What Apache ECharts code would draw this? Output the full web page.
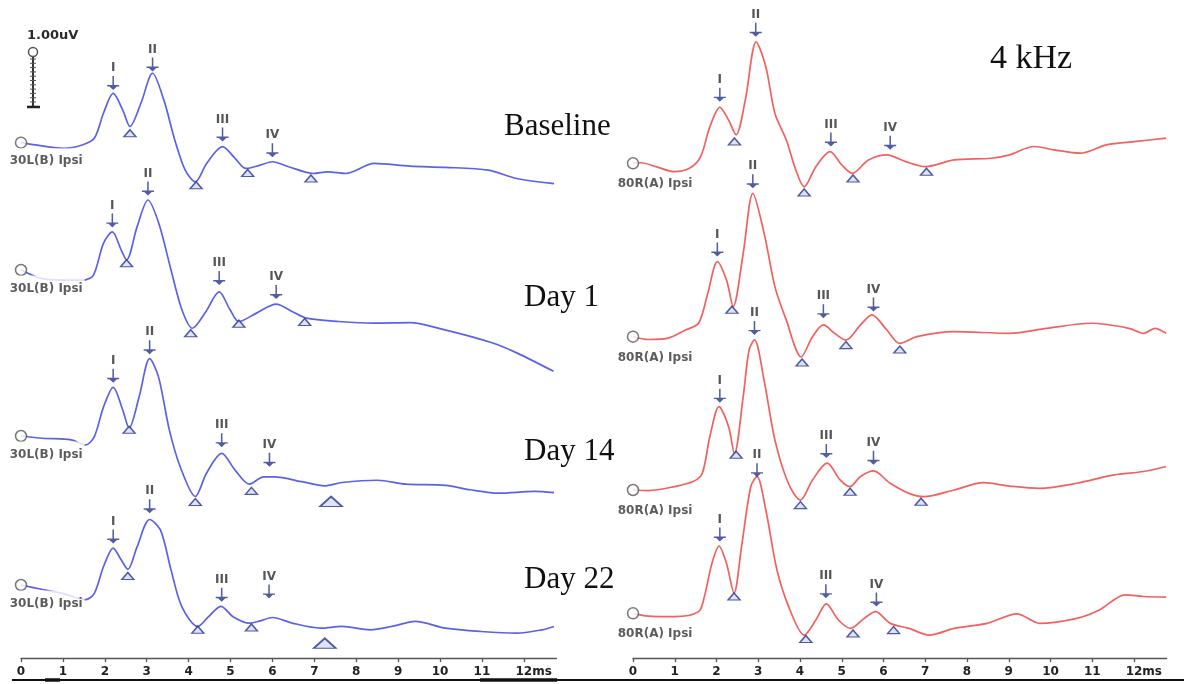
<!DOCTYPE html>
<html><head><meta charset="utf-8">
<script src="https://cdn.jsdelivr.net/npm/echarts/dist/echarts.min.js"></script>
<style>html,body{margin:0;padding:0;background:#fff}#c{width:1184px;height:684px}</style>
</head><body><div id="c"></div>
<script>
// ---------- DATA (latency ms, amplitude uV relative to each trace's start) ----------
const TICK_LABELS = ['0','1','2','3','4','5','6','7','8','9','10','11','12ms'];
const PEAK_NAMES = ['I','II','III','IV'];
const ROW_LABELS = ['Baseline','Day 1','Day 14','Day 22'];
const LEFT_CHANNEL = '30L(B) Ipsi';
const RIGHT_CHANNEL = '80R(A) Ipsi';
const FREQ_LABEL = '4 kHz';
const SCALE_LABEL = '1.00uV';

const L_base = [[0,0],[0.35,-0.04],[1.03,-0.10],[1.46,-0.04],[1.75,0.08],[1.97,0.53],[2.20,0.88],[2.43,0.58],[2.60,0.29],[2.86,0.70],[3.14,1.24],[3.41,0.76],[3.67,0.05],[3.92,-0.49],[4.16,-0.70],[4.43,-0.37],[4.81,-0.07],[5.11,-0.28],[5.37,-0.46],[5.71,-0.40],[6.00,-0.34],[6.39,-0.43],[6.98,-0.55],[7.32,-0.52],[7.75,-0.55],[8.43,-0.37],[9.28,-0.42],[10.13,-0.44],[11.15,-0.49],[11.83,-0.64],[12.72,-0.73]];
const L_d1 = [[0,0],[0.48,-0.15],[0.93,-0.18],[1.50,-0.18],[1.73,-0.09],[1.97,0.48],[2.18,0.68],[2.39,0.36],[2.52,0.18],[2.77,0.77],[3.03,1.25],[3.29,0.83],[3.58,0],[3.84,-0.71],[4.09,-1.04],[4.39,-0.77],[4.73,-0.39],[4.99,-0.71],[5.20,-0.92],[5.62,-0.77],[6.09,-0.61],[6.47,-0.74],[6.81,-0.86],[7.58,-0.92],[8.43,-0.95],[9.28,-0.94],[10.12,-1.07],[11.24,-1.30],[11.83,-1.48],[12.71,-1.81]];
const L_d14 = [[0,0],[0.52,-0.04],[1.20,-0.07],[1.54,-0.16],[1.75,-0.01],[1.97,0.52],[2.20,0.87],[2.43,0.46],[2.58,0.14],[2.82,0.70],[3.07,1.38],[3.28,1.06],[3.54,0.11],[3.80,-0.55],[4.16,-1.08],[4.43,-0.66],[4.79,-0.31],[5.11,-0.61],[5.45,-0.86],[5.79,-0.73],[6.05,-0.73],[6.73,-0.82],[7.24,-0.89],[7.66,-0.83],[8.51,-0.79],[9.19,-0.86],[10.13,-0.88],[10.72,-0.96],[11.40,-1.02],[12.25,-0.99],[12.72,-1.01]];
const L_d22 = [[0,0],[0.52,-0.08],[0.99,-0.15],[1.54,-0.26],[1.75,-0.15],[1.97,0.33],[2.20,0.66],[2.39,0.45],[2.55,0.28],[2.77,0.68],[3.07,1.17],[3.33,0.98],[3.58,0.27],[3.84,-0.39],[4.22,-0.74],[4.47,-0.57],[4.77,-0.38],[5.07,-0.57],[5.45,-0.68],[5.71,-0.64],[6.00,-0.58],[6.47,-0.68],[7.15,-0.77],[7.66,-0.74],[8.34,-0.80],[8.85,-0.74],[9.41,-0.65],[10.13,-0.77],[10.98,-0.83],[11.83,-0.86],[12.43,-0.80],[12.72,-0.74]];

const R_base = [[0,0],[0.19,0.01],[0.55,-0.06],[0.99,-0.15],[1.35,-0.09],[1.62,0.12],[1.84,0.65],[2.08,1.00],[2.29,0.77],[2.47,0.51],[2.69,1.13],[2.95,2.17],[3.18,1.73],[3.40,0.89],[3.67,0.42],[3.90,-0.12],[4.10,-0.42],[4.38,-0.06],[4.72,0.21],[5.00,-0.03],[5.25,-0.18],[5.64,0.06],[6.08,0.15],[6.53,0.03],[7.01,-0.06],[7.69,0.06],[8.58,0.09],[9.02,0.15],[9.60,0.30],[10.09,0.24],[10.71,0.18],[11.34,0.33],[12.06,0.39],[12.77,0.45]];
const R_d1 = [[0,0],[0.37,-0.05],[0.82,-0.03],[1.26,0.12],[1.57,0.24],[1.79,0.77],[2.02,1.34],[2.24,1.01],[2.40,0.54],[2.64,1.49],[2.87,2.56],[3.14,1.85],[3.40,0.89],[3.67,0.30],[4.03,-0.36],[4.30,0],[4.56,0.21],[4.83,0.06],[5.10,-0.06],[5.45,0.21],[5.72,0.39],[6.08,0.12],[6.39,-0.12],[6.80,0],[7.69,0.09],[9.02,0.06],[9.91,0.15],[10.98,0.24],[11.88,0.15],[12.23,0.06],[12.50,0.15],[12.77,0.06]];
const R_d14 = [[0,0],[0.37,-0.01],[0.99,0.06],[1.44,0.15],[1.66,0.30],[1.84,0.95],[2.06,1.49],[2.29,1.13],[2.43,0.65],[2.64,1.67],[2.78,2.50],[2.91,2.68],[3.14,1.96],[3.40,0.89],[3.72,0.12],[4.01,-0.18],[4.30,0.18],[4.65,0.48],[4.96,0.18],[5.19,0.06],[5.45,0.24],[5.76,0.34],[6.16,0.12],[6.61,-0.06],[6.97,-0.12],[7.69,0],[8.40,0.13],[9.02,0.07],[9.74,0.03],[10.63,0.12],[11.52,0.27],[12.23,0.33],[12.77,0.42]];
const R_d22 = [[0,0],[0.37,-0.05],[0.99,-0.06],[1.57,0.03],[1.71,0.30],[1.89,0.89],[2.06,1.20],[2.24,0.89],[2.42,0.36],[2.60,1.19],[2.82,2.26],[2.97,2.44],[3.18,1.85],[3.45,0.77],[3.76,0.06],[4.10,-0.39],[4.38,-0.12],[4.63,0.17],[4.92,-0.12],[5.21,-0.27],[5.54,-0.09],[5.81,0.03],[6.16,-0.18],[6.61,-0.27],[7.10,-0.39],[7.69,-0.27],[8.48,-0.18],[9.20,-0.01],[9.74,-0.18],[10.63,-0.09],[11.17,0.06],[11.79,0.33],[12.23,0.30],[12.77,0.29]];

// peak cursors (arrow tips) I..IV
const L_base_pk = [[2.20,0.94],[3.14,1.27],[4.81,0.02],[6.00,-0.26]];
const L_d1_pk = [[2.18,0.76],[3.03,1.33],[4.73,-0.27],[6.09,-0.52]];
const L_d14_pk = [[2.20,0.95],[3.07,1.46],[4.79,-0.20],[5.93,-0.55]];
const L_d22_pk = [[2.20,0.74],[3.07,1.28],[4.79,-0.30],[5.92,-0.24]];
const R_base_pk = [[2.08,1.10],[2.94,2.26],[4.74,0.30],[6.16,0.24]];
const R_d1_pk = [[2.02,1.43],[2.87,2.65],[4.56,0.33],[5.76,0.45]];
const R_d14_pk = [[2.08,1.56],[2.91,2.77],[4.63,0.57],[5.76,0.45]];
const R_d22_pk = [[2.08,1.28],[2.97,2.43],[4.62,0.27],[5.83,0.12]];

// trough cursors (triangles)
const L_base_tr = [[2.60,0.17],[4.18,-0.76],[5.41,-0.54],[6.92,-0.64]];
const L_d1_tr = [[2.52,0.12],[4.05,-1.13],[5.20,-0.96],[6.77,-0.93]];
const L_d14_tr = [[2.58,0.11],[4.16,-1.18],[5.50,-0.98]];
const L_d22_tr = [[2.55,0.16],[4.22,-0.80],[5.50,-0.76]];
const R_base_tr = [[2.43,0.39],[4.10,-0.52],[5.27,-0.27],[7.03,-0.15]];
const R_d1_tr = [[2.37,0.48],[4.05,-0.46],[5.10,-0.15],[6.39,-0.23]];
const R_d14_tr = [[2.47,0.63],[4.01,-0.27],[5.20,-0.03],[6.90,-0.21]];
const R_d22_tr = [[2.42,0.30],[4.14,-0.46],[5.27,-0.36],[6.24,-0.30]];
// large (latency) triangles
const L_d14_big = [[7.40,-1.17]];
const L_d22_big = [[7.25,-1.04]];

// ---------- LAYOUT ----------
const PX_PER_UV = 56, AXIS_Y = 658;
const LEFT_ROW_Y = [142.7, 270, 436, 585];
const RIGHT_ROW_Y = [163.3, 336.7, 490, 613.3];
const BLUE = '#5a62e8', RED = '#f2615f', NAVY = '#27338c';
const SANS = '"DejaVu Sans", Verdana, sans-serif';
const SERIF = '"Liberation Serif", "Times New Roman", serif';

const panels = [
  {color: BLUE, rowsY: LEFT_ROW_Y, channel: LEFT_CHANNEL, lab: {dx: -7, dy: 11.7, pt: 7},
   traces: [[L_base, L_base_pk, L_base_tr, []],[L_d1, L_d1_pk, L_d1_tr, []],[L_d14, L_d14_pk, L_d14_tr, L_d14_big],[L_d22, L_d22_pk, L_d22_tr, L_d22_big]]},
  {color: RED, rowsY: RIGHT_ROW_Y, channel: RIGHT_CHANNEL, lab: {dx: -11, dy: 16, pt: 5},
   traces: [[R_base, R_base_pk, R_base_tr, []],[R_d1, R_d1_pk, R_d1_tr, []],[R_d14, R_d14_pk, R_d14_tr, []],[R_d22, R_d22_pk, R_d22_tr, []]]}
];

const ARROW = 'path://M5.3,0H6.7V10H5.3Z M0.5,9H11.5V10.4H0.5Z M2.6,10.4H9.4L6,14Z';
const yMax = AXIS_Y / PX_PER_UV;
const series = [];
panels.forEach((p, pi) => {
  p.traces.forEach((t, ri) => {
    const off = (AXIS_Y - p.rowsY[ri]) / PX_PER_UV;
    const sh = d => [d[0], d[1] + off];
    series.push({type:'line', xAxisIndex:pi, yAxisIndex:pi, data:t[0].map(sh), showSymbol:false,
      smooth:0.3, clip:false, silent:true, z:2, lineStyle:{color:p.color, width:1.7}});
    series.push({type:'scatter', xAxisIndex:pi, yAxisIndex:pi, z:3, silent:true,
      data:t[1].map((d,k)=>({value:sh(d), name:PEAK_NAMES[k]})),
      symbol:ARROW, symbolSize:[12,14], symbolOffset:[0,-7], itemStyle:{color:NAVY},
      label:{show:true, position:'top', distance:2, formatter:'{b}', color:'#2a2a2a', fontSize:12, fontWeight:'bold', fontFamily:SANS}});
    series.push({type:'scatter', xAxisIndex:pi, yAxisIndex:pi, z:3, silent:true, data:t[2].map(sh),
      symbol:'triangle', symbolSize:[12,7], itemStyle:{color:'#d6ddfa', borderColor:NAVY, borderWidth:1.4}});
    if (t[3].length) series.push({type:'scatter', xAxisIndex:pi, yAxisIndex:pi, z:3, silent:true, data:t[3].map(sh),
      symbol:'triangle', symbolSize:[22,10], itemStyle:{color:'#d6ddfa', borderColor:NAVY, borderWidth:1.7}});
    series.push({type:'scatter', xAxisIndex:pi, yAxisIndex:pi, z:5, silent:true, data:[[0, off]],
      symbol:'circle', symbolSize:11, itemStyle:{color:'#fff', borderColor:'#555', borderWidth:1.5},
      label:{show:true, formatter:p.channel, position:[p.lab.dx, p.lab.dy], align:'left', verticalAlign:'top',
        backgroundColor:'#fff', padding:[p.lab.pt,2,2,2], color:'#333', fontSize:12, fontWeight:'bold', fontFamily:SANS}});
  });
});

const ticks = TICK_LABELS.map((_, i) => i);
const xAxisBase = (gi, max) => ({type:'value', gridIndex:gi, min:0, max:max, interval:1,
  axisLine:{lineStyle:{color:'#555', width:1.3}}, splitLine:{show:false},
  axisTick:{inside:false, length:4, lineStyle:{color:'#555', width:1.3}, customValues:ticks},
  axisLabel:{customValues:ticks, margin:8, color:'#222', fontSize:12, fontWeight:'bold', fontFamily:SANS,
    formatter:v => { const s = TICK_LABELS[Math.round(v)]; return s === '12ms' ? '{g|ms}12ms' : s; },
    rich:{g:{color:'rgba(0,0,0,0)', fontSize:12, fontWeight:'bold', fontFamily:SANS}}}});

const graphic = [];
graphic.push({type:'text', left:27, top:29, style:{text:SCALE_LABEL, font:'bold 13px ' + SANS, fill:'#2a2a2a'}});
graphic.push({type:'line', shape:{x1:33, y1:55, x2:33, y2:107}, style:{stroke:'#333', lineWidth:2}});
for (let k = 0; k < 12; k++) graphic.push({type:'line', shape:{x1:30, y1:59 + k*4.3, x2:36, y2:59 + k*4.3}, style:{stroke:'#555', lineWidth:1}});
graphic.push({type:'line', shape:{x1:27, y1:107, x2:40, y2:107}, style:{stroke:'#222', lineWidth:2.5}});
graphic.push({type:'circle', shape:{cx:33, cy:52, r:4.5}, style:{fill:'#fff', stroke:'#555', lineWidth:1.5}});
const rowTextPos = [[504,127],[524,298],[524,452],[524,580]];
ROW_LABELS.forEach((s, i) => graphic.push({type:'text', x:rowTextPos[i][0], y:rowTextPos[i][1],
  style:{text:s, font:'31px ' + SERIF, fill:'#111', verticalAlign:'middle'}}));
graphic.push({type:'text', x:990, y:59, style:{text:FREQ_LABEL, font:'34px ' + SERIF, fill:'#111', verticalAlign:'middle'}});
graphic.push({type:'line', shape:{x1:12, y1:680, x2:1184, y2:680}, style:{stroke:'#111', lineWidth:2}});
graphic.push({type:'line', shape:{x1:45, y1:680, x2:60, y2:680}, style:{stroke:'#111', lineWidth:3.5}});
graphic.push({type:'line', shape:{x1:480, y1:680, x2:557, y2:680}, style:{stroke:'#111', lineWidth:3.5}});

const chart = echarts.init(document.getElementById('c'), null, {renderer:'canvas'});
chart.setOption({
  animation:false, backgroundColor:'#fff',
  grid:[{left:21, top:0, width:12.78*41.9, height:AXIS_Y}, {left:633, top:0, width:12.78*41.75, height:AXIS_Y}],
  xAxis:[xAxisBase(0, 12.78), xAxisBase(1, 12.78)],
  yAxis:[0,1].map(gi => ({type:'value', gridIndex:gi, min:0, max:yMax, show:false, splitLine:{show:false}})),
  series:series,
  graphic:graphic
});
</script></body></html>
